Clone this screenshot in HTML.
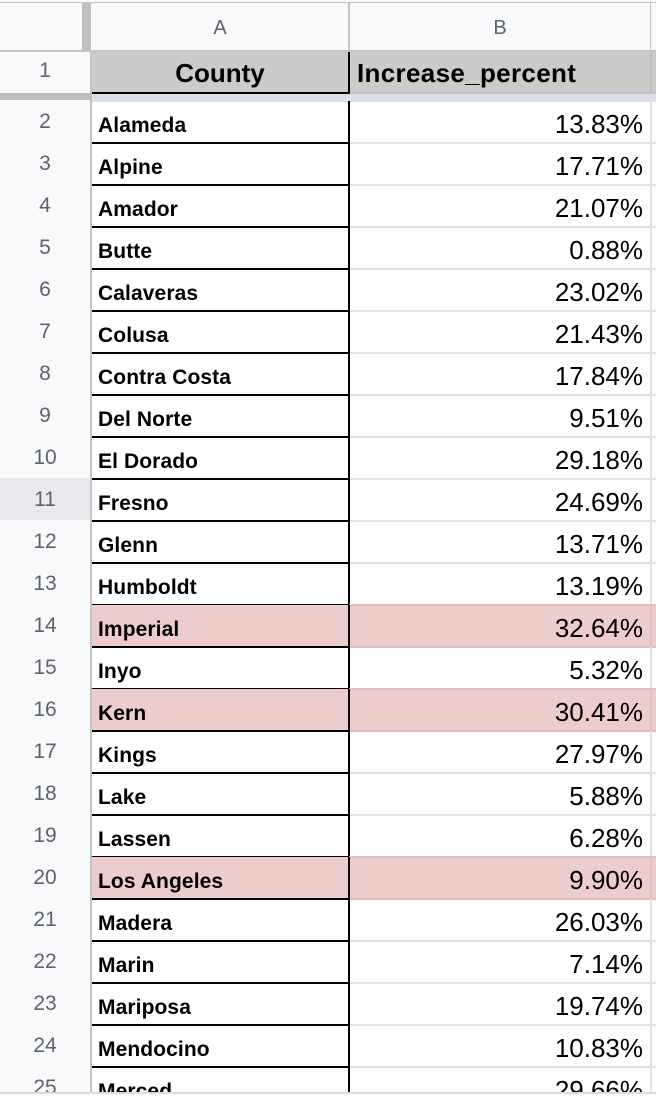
<!DOCTYPE html>
<html>
<head>
<meta charset="utf-8">
<title>County Increase Percent</title>
<style>
html,body{margin:0;padding:0;background:#fff}
#sheet{position:relative;width:656px;height:1096px;overflow:hidden;background:#fff;font-family:"Liberation Sans",sans-serif}
#grid{position:absolute;left:0;top:0;width:656px;height:1092px;overflow:hidden;background:#fff}
.abs{position:absolute}
.row{position:absolute;left:0;width:656px;height:42px}
.num{position:absolute;left:0;top:-1px;width:90px;height:42px;padding-top:1px;box-sizing:content-box;line-height:42px;text-align:center;font-size:21px;color:#5f6368;background:#f8f9fa;border-bottom:0}
.num.sel{background:#e8eaed}
.gutline{position:absolute;left:0;top:41px;width:91px;height:1.5px;background:#c6c7c9}
.gutedge{position:absolute;left:90px;top:0;width:2px;height:43px;background:#c4c5c7}
.a{position:absolute;left:98px;top:4px;height:42px;line-height:42px;font-size:21px;letter-spacing:.1px;font-weight:700;color:#000;white-space:nowrap}
.b{position:absolute;right:13px;top:2px;height:42px;line-height:42px;font-size:26px;color:#000;white-space:nowrap}
.blackh{position:absolute;left:92px;top:41px;width:257px;height:2px;background:#000}
.lighth{position:absolute;left:349px;top:41px;width:307px;height:2px;background:#e2e2e2}
.blackv{position:absolute;left:348px;top:0;width:2px;height:43px;background:#000}
.edge{position:absolute;left:650px;top:0;width:1.5px;height:43px;background:#e2e2e2}
.hl .fill{position:absolute;left:92px;top:0;width:564px;height:41px;background:#eccdcc}
.hl .lighth{background:#dcbfbe}
.hl .edge{background:#dcbfbe}
.hl .top{position:absolute;left:349px;top:-1px;width:307px;height:2px;background:#dcbfbe}
.col{position:absolute;top:3px;height:47px;line-height:50px;text-align:center;font-size:20px;color:#5f6368;background:#f8f9fa}
.hd{position:absolute;top:52px;height:41px;line-height:43px;font-size:26px;font-weight:700;color:#000;background:#cbcbcb;white-space:nowrap}
</style>
</head>
<body>
<div id="sheet">
<div id="grid">

<div class="abs" style="left:0;top:0;width:656px;height:2px;background:#fafafa"></div>
<div class="abs" style="left:0;top:2px;width:656px;height:1.5px;background:#c4c5c7"></div>
<div class="abs" style="left:0;top:3px;width:82px;height:47px;background:#f8f9fa"></div>
<div class="abs" style="left:82px;top:3px;width:9px;height:49px;background:#bfbfbf"></div>
<div class="abs" style="left:0;top:50px;width:656px;height:2px;background:#c4c5c7"></div>
<div class="col" style="left:92px;width:256px">A</div>
<div class="abs" style="left:348px;top:3px;width:2px;height:47px;background:#c4c5c7"></div>
<div class="col" style="left:350px;width:300px">B</div>
<div class="abs" style="left:650px;top:3px;width:6px;height:47px;background:#f8f9fa;border-left:1.5px solid #c4c5c7"></div>

<div class="abs" style="left:0;top:52px;width:90px;height:41px;line-height:37px;text-align:center;font-size:21px;color:#5f6368;background:#f8f9fa">1</div>
<div class="abs" style="left:90px;top:52px;width:2px;height:42px;background:#c4c5c7"></div>
<div class="hd" style="left:92px;width:256px;text-align:center">County</div>
<div class="abs" style="left:348px;top:52px;width:2px;height:41px;background:#000"></div>
<div class="hd" style="left:350px;width:306px;padding-left:7px;box-sizing:border-box;letter-spacing:.33px">Increase_percent</div>
<div class="abs" style="left:650px;top:52px;width:1.5px;height:41px;background:#bdbdbd"></div>
<div class="abs" style="left:92px;top:92px;width:258px;height:2px;background:#000"></div>
<div class="abs" style="left:0;top:93px;width:92px;height:9px;background:#bfbfbf"></div>
<div class="abs" style="left:92px;top:94px;width:564px;height:8px;background:#dadfe9"></div>
<div class="abs" style="left:350px;top:93px;width:306px;height:1px;background:#bfc2c8"></div>

<div class="row" style="top:101px"><div class="num">2</div><div class="gutline"></div><div class="gutedge"></div><div class="a">Alameda</div><div class="b">13.83%</div><div class="blackh"></div><div class="lighth"></div><div class="blackv"></div><div class="edge"></div></div>
<div class="row" style="top:143px"><div class="num">3</div><div class="gutline"></div><div class="gutedge"></div><div class="a">Alpine</div><div class="b">17.71%</div><div class="blackh"></div><div class="lighth"></div><div class="blackv"></div><div class="edge"></div></div>
<div class="row" style="top:185px"><div class="num">4</div><div class="gutline"></div><div class="gutedge"></div><div class="a">Amador</div><div class="b">21.07%</div><div class="blackh"></div><div class="lighth"></div><div class="blackv"></div><div class="edge"></div></div>
<div class="row" style="top:227px"><div class="num">5</div><div class="gutline"></div><div class="gutedge"></div><div class="a">Butte</div><div class="b">0.88%</div><div class="blackh"></div><div class="lighth"></div><div class="blackv"></div><div class="edge"></div></div>
<div class="row" style="top:269px"><div class="num">6</div><div class="gutline"></div><div class="gutedge"></div><div class="a">Calaveras</div><div class="b">23.02%</div><div class="blackh"></div><div class="lighth"></div><div class="blackv"></div><div class="edge"></div></div>
<div class="row" style="top:311px"><div class="num">7</div><div class="gutline"></div><div class="gutedge"></div><div class="a">Colusa</div><div class="b">21.43%</div><div class="blackh"></div><div class="lighth"></div><div class="blackv"></div><div class="edge"></div></div>
<div class="row" style="top:353px"><div class="num">8</div><div class="gutline"></div><div class="gutedge"></div><div class="a">Contra Costa</div><div class="b">17.84%</div><div class="blackh"></div><div class="lighth"></div><div class="blackv"></div><div class="edge"></div></div>
<div class="row" style="top:395px"><div class="num">9</div><div class="gutline"></div><div class="gutedge"></div><div class="a">Del Norte</div><div class="b">9.51%</div><div class="blackh"></div><div class="lighth"></div><div class="blackv"></div><div class="edge"></div></div>
<div class="row" style="top:437px"><div class="num">10</div><div class="gutline"></div><div class="gutedge"></div><div class="a">El Dorado</div><div class="b">29.18%</div><div class="blackh"></div><div class="lighth"></div><div class="blackv"></div><div class="edge"></div></div>
<div class="row" style="top:479px"><div class="num sel">11</div><div class="gutline"></div><div class="gutedge"></div><div class="a">Fresno</div><div class="b">24.69%</div><div class="blackh"></div><div class="lighth"></div><div class="blackv"></div><div class="edge"></div></div>
<div class="row" style="top:521px"><div class="num">12</div><div class="gutline"></div><div class="gutedge"></div><div class="a">Glenn</div><div class="b">13.71%</div><div class="blackh"></div><div class="lighth"></div><div class="blackv"></div><div class="edge"></div></div>
<div class="row" style="top:563px"><div class="num">13</div><div class="gutline"></div><div class="gutedge"></div><div class="a">Humboldt</div><div class="b">13.19%</div><div class="blackh"></div><div class="lighth"></div><div class="blackv"></div><div class="edge"></div></div>
<div class="row hl" style="top:605px"><div class="fill"></div><div class="top"></div><div class="num">14</div><div class="gutline"></div><div class="gutedge"></div><div class="a">Imperial</div><div class="b">32.64%</div><div class="blackh"></div><div class="lighth"></div><div class="blackv"></div><div class="edge"></div></div>
<div class="row" style="top:647px"><div class="num">15</div><div class="gutline"></div><div class="gutedge"></div><div class="a">Inyo</div><div class="b">5.32%</div><div class="blackh"></div><div class="lighth"></div><div class="blackv"></div><div class="edge"></div></div>
<div class="row hl" style="top:689px"><div class="fill"></div><div class="top"></div><div class="num">16</div><div class="gutline"></div><div class="gutedge"></div><div class="a">Kern</div><div class="b">30.41%</div><div class="blackh"></div><div class="lighth"></div><div class="blackv"></div><div class="edge"></div></div>
<div class="row" style="top:731px"><div class="num">17</div><div class="gutline"></div><div class="gutedge"></div><div class="a">Kings</div><div class="b">27.97%</div><div class="blackh"></div><div class="lighth"></div><div class="blackv"></div><div class="edge"></div></div>
<div class="row" style="top:773px"><div class="num">18</div><div class="gutline"></div><div class="gutedge"></div><div class="a">Lake</div><div class="b">5.88%</div><div class="blackh"></div><div class="lighth"></div><div class="blackv"></div><div class="edge"></div></div>
<div class="row" style="top:815px"><div class="num">19</div><div class="gutline"></div><div class="gutedge"></div><div class="a">Lassen</div><div class="b">6.28%</div><div class="blackh"></div><div class="lighth"></div><div class="blackv"></div><div class="edge"></div></div>
<div class="row hl" style="top:857px"><div class="fill"></div><div class="top"></div><div class="num">20</div><div class="gutline"></div><div class="gutedge"></div><div class="a">Los Angeles</div><div class="b">9.90%</div><div class="blackh"></div><div class="lighth"></div><div class="blackv"></div><div class="edge"></div></div>
<div class="row" style="top:899px"><div class="num">21</div><div class="gutline"></div><div class="gutedge"></div><div class="a">Madera</div><div class="b">26.03%</div><div class="blackh"></div><div class="lighth"></div><div class="blackv"></div><div class="edge"></div></div>
<div class="row" style="top:941px"><div class="num">22</div><div class="gutline"></div><div class="gutedge"></div><div class="a">Marin</div><div class="b">7.14%</div><div class="blackh"></div><div class="lighth"></div><div class="blackv"></div><div class="edge"></div></div>
<div class="row" style="top:983px"><div class="num">23</div><div class="gutline"></div><div class="gutedge"></div><div class="a">Mariposa</div><div class="b">19.74%</div><div class="blackh"></div><div class="lighth"></div><div class="blackv"></div><div class="edge"></div></div>
<div class="row" style="top:1025px"><div class="num">24</div><div class="gutline"></div><div class="gutedge"></div><div class="a">Mendocino</div><div class="b">10.83%</div><div class="blackh"></div><div class="lighth"></div><div class="blackv"></div><div class="edge"></div></div>
<div class="row" style="top:1067px"><div class="num">25</div><div class="gutline"></div><div class="gutedge"></div><div class="a">Merced</div><div class="b">29.66%</div><div class="blackh"></div><div class="lighth"></div><div class="blackv"></div><div class="edge"></div></div>

</div>
<div class="abs" style="left:0;top:1092px;width:656px;height:2px;background:#dcdcdc"></div>
<div class="abs" style="left:0;top:1094px;width:656px;height:2px;background:#fbfbfb"></div>
</div>
</body>
</html>
